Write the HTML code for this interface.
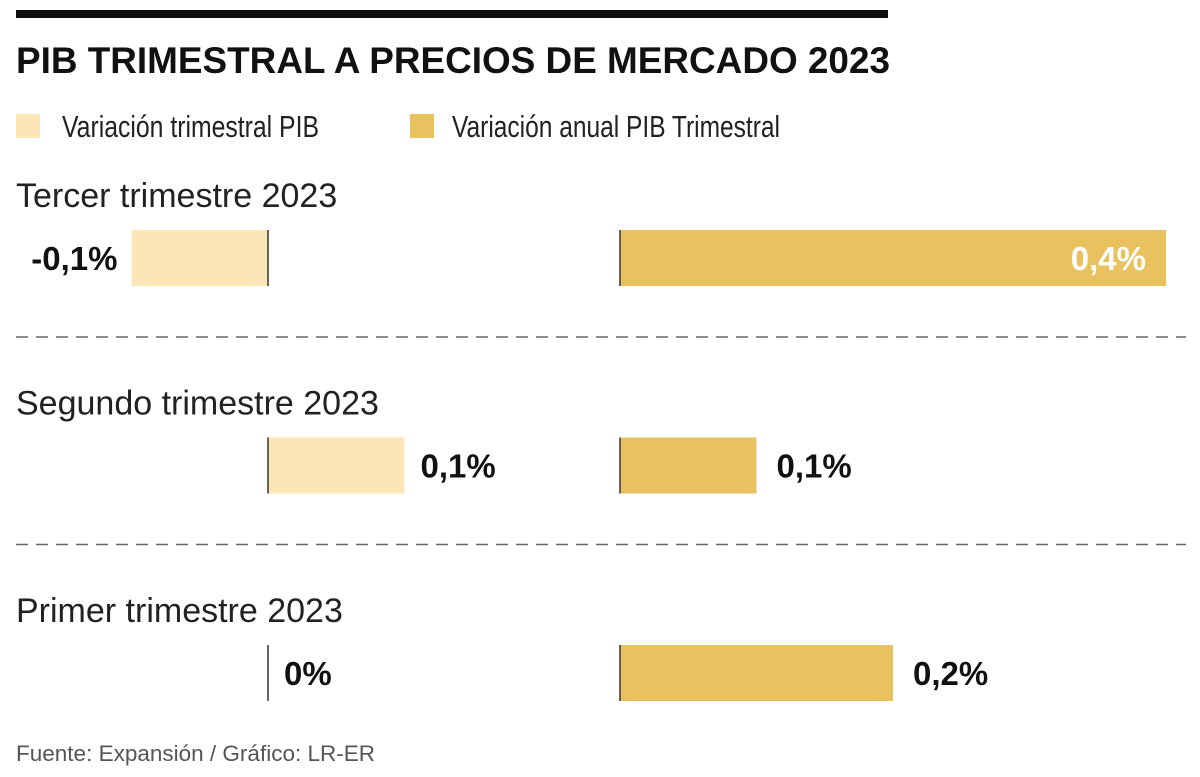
<!DOCTYPE html>
<html><head><meta charset="utf-8">
<style>
html,body{margin:0;padding:0;background:#fff;}
svg{display:block;font-family:"Liberation Sans Narrow","Liberation Sans",sans-serif;}
</style></head>
<body>
<svg id="chart" width="1200" height="777" viewBox="0 0 1200 777">
  <rect x="16" y="10" width="872" height="8" fill="#111"/>
  <text x="16" y="73" font-size="37" font-weight="bold" fill="#111" textLength="874" lengthAdjust="spacingAndGlyphs">PIB TRIMESTRAL A PRECIOS DE MERCADO 2023</text>
  <rect x="16" y="114" width="24" height="24" fill="#fce6b5"/>
  <text x="62" y="137" font-size="31" fill="#222" textLength="257" lengthAdjust="spacingAndGlyphs">Variación trimestral PIB</text>
  <rect x="410" y="114" width="24" height="24" fill="#e9c15e"/>
  <text x="452" y="137" font-size="31" fill="#222" textLength="328" lengthAdjust="spacingAndGlyphs">Variación anual PIB Trimestral</text>
  <g id="rows"></g>
  <text x="16" y="761" font-size="22" fill="#555" textLength="359" lengthAdjust="spacingAndGlyphs">Fuente: Expansión / Gráfico: LR-ER</text>
</svg>
<script>
const categories = ["Tercer trimestre 2023", "Segundo trimestre 2023", "Primer trimestre 2023"];
const quarterlyValues = [-0.1, 0.1, 0];
const annualValues = [0.4, 0.1, 0.2];
const quarterlyLabels = ["-0,1%", "0,1%", "0%"];
const annualLabels = ["0,4%", "0,1%", "0,2%"];

const NS = "http://www.w3.org/2000/svg";
const g = document.getElementById("rows");
const pxPerUnit = 1365;
const zeroQ = 268, zeroA = 620;
const xQ = v => zeroQ + v * pxPerUnit;
const xA = v => zeroA + v * pxPerUnit;
const rowTop = i => 230 + i * 207.5;
const barH = 56;
function mk(tag, attrs, text) {
  const e = document.createElementNS(NS, tag);
  for (const k in attrs) e.setAttribute(k, attrs[k]);
  if (text !== undefined) e.textContent = text;
  g.appendChild(e);
  return e;
}
categories.forEach((c, i) => {
  const top = rowTop(i);
  const t = mk("text", {x: 16, y: top - 23, "font-size": 34, fill: "#222"}, c);
  
  
  const qv = quarterlyValues[i];
  const qx0 = Math.min(xQ(0), xQ(qv)), qw = Math.abs(xQ(qv) - xQ(0));
  const qb = mk("rect", {x: qx0, y: top, width: qw, height: barH, fill: "#fce6b5"});
  
  
  const qa = mk("line", {x1: zeroQ, x2: zeroQ, y1: top, y2: top + barH, stroke: "#333", "stroke-width": 1.5});
  
  
  let ql;
  if (qv < 0) ql = mk("text", {x: xQ(qv) - 14, y: top + 40, "font-size": 33, "font-weight": "bold", fill: "#111", "text-anchor": "end"}, quarterlyLabels[i]);
  else ql = mk("text", {x: xQ(qv) + 16, y: top + 40, "font-size": 33, "font-weight": "bold", fill: "#111"}, quarterlyLabels[i]);
  
  
  const av = annualValues[i];
  const ab = mk("rect", {x: xA(0), y: top, width: xA(av) - xA(0), height: barH, fill: "#e9c15e"});
  
  
  const aa = mk("line", {x1: zeroA, x2: zeroA, y1: top, y2: top + barH, stroke: "#333", "stroke-width": 1.5});
  
  
  let al;
  if (av >= 0.3) al = mk("text", {x: xA(av) - 20, y: top + 40, "font-size": 33, "font-weight": "bold", fill: "#fff", "text-anchor": "end"}, annualLabels[i]);
  else al = mk("text", {x: xA(av) + 20, y: top + 40, "font-size": 33, "font-weight": "bold", fill: "#111"}, annualLabels[i]);
  
  
  if (i < categories.length - 1) {
    const d = mk("line", {x1: 16, x2: 1186, y1: top + 107, y2: top + 107, stroke: "#666", "stroke-width": 1.5, "stroke-dasharray": "12 8"});
    
    
  }
});
</script>
</body></html>
